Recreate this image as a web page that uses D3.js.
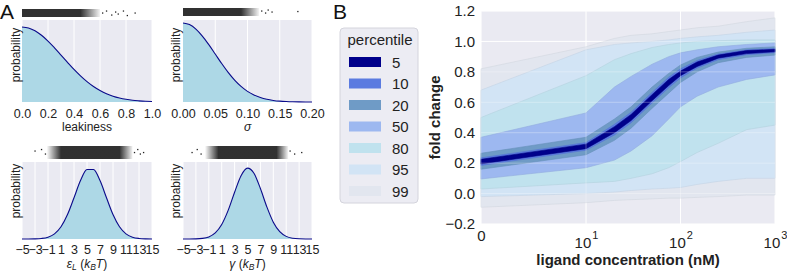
<!DOCTYPE html>
<html><head><meta charset="utf-8">
<script src="https://cdn.jsdelivr.net/npm/d3@7"></script>
<style>
body{margin:0;background:#fff;}
svg{display:block;font-family:"Liberation Sans", Arial, sans-serif;}
</style></head><body>
<svg id="c" width="787" height="272"></svg>
<script>
// ---------- Panel A data ----------
const leakX = [0,0.05,0.1,0.15,0.2,0.25,0.3,0.35,0.4,0.45,0.5,0.55,0.6,0.65,0.7,0.75,0.8,0.85,0.9,0.95,1.0];
const leakP = [1.0,0.987,0.949,0.889,0.812,0.722,0.626,0.529,0.435,0.349,0.272,0.207,0.154,0.111,0.078,0.054,0.036,0.023,0.015,0.009,0.006];
const sigmaX = [0,0.01,0.02,0.03,0.04,0.05,0.06,0.07,0.08,0.09,0.10,0.11,0.12,0.13,0.14,0.15,0.16,0.17,0.18,0.19,0.20];
const sigmaP = [1.0,0.98,0.923,0.835,0.726,0.607,0.487,0.375,0.278,0.198,0.135,0.089,0.056,0.034,0.020,0.011,0.006,0.003,0.0015,0.0007,0.0003];
const energyX = [-5,-4,-3,-2,-1,0,1,2,3,4,5,6,7,8,9,10,11,12,13,14,15];
const epsP = [0.0001,0.0004,0.0019,0.0076,0.0255,0.0724,0.172,0.345,0.581,0.823,0.979,0.979,0.823,0.581,0.345,0.172,0.0724,0.0255,0.0076,0.0019,0.0004];
const gammaP = [0.0001,0.0004,0.002,0.0085,0.0297,0.0856,0.204,0.403,0.659,0.892,0.999,0.926,0.711,0.452,0.237,0.103,0.037,0.011,0.0027,0.0006,0.0001];
const leakTicks = [0,0.2,0.4,0.6,0.8,1.0];
const sigmaTicks = [0,0.05,0.10,0.15,0.20];
const energyTicks = [-5,-3,-1,1,3,5,7,9,11,13,15];
// rug (sample strips): dense core range, fringe range, isolated samples (value, relative jitter)
const rugLeakCore = [0,0.45], rugLeakFringe = [0,0.6];
const rugLeakOut = [0.62,0.65,0.69,0.72,0.74,0.78,0.81,0.87];
const rugLeakJit = [0.5,0.3,0.7,0.4,0.6,0.3,0.75,0.5];
const rugSigmaCore = [0,0.09], rugSigmaFringe = [0,0.118];
const rugSigmaOut = [0.122,0.128,0.132,0.138,0.178];
const rugSigmaJit = [0.4,0.6,0.3,0.5,0.45];
const rugEpsCore = [1.0,10.0], rugEpsFringe = [-1.2,12.0];
const rugEpsOut = [-3.0,-2.0,-1.4,12.3,12.8,13.2,13.7];
const rugEpsJit = [0.4,0.3,0.6,0.5,0.3,0.6,0.5];
const rugGamCore = [0.5,9.5], rugGamFringe = [-1.6,11.3];
const rugGamOut = [-3.6,-2.8,-2.2,11.6,12.3,13.4];
const rugGamJit = [0.5,0.3,0.6,0.4,0.6,0.5];

// ---------- Panel B data ----------
const conc = [0,10,20,30,50,75,100,150,250,500,1000];
const p5lo  = [0.195,0.295,0.40,0.48,0.61,0.71,0.775,0.835,0.89,0.92,0.932];
const p5hi  = [0.225,0.325,0.44,0.52,0.65,0.75,0.805,0.865,0.91,0.94,0.948];
const p10lo = [0.185,0.285,0.385,0.465,0.595,0.695,0.76,0.825,0.88,0.913,0.926];
const p10hi = [0.235,0.335,0.455,0.535,0.665,0.765,0.82,0.875,0.918,0.945,0.954];
const p20lo = [0.16,0.255,0.35,0.43,0.56,0.66,0.73,0.80,0.86,0.895,0.91];
const p20hi = [0.265,0.37,0.49,0.57,0.70,0.79,0.845,0.895,0.93,0.955,0.965];
const p50lo = [0.096,0.17,0.22,0.28,0.38,0.49,0.57,0.64,0.70,0.75,0.78];
const p50hi = [0.37,0.53,0.70,0.77,0.85,0.90,0.925,0.945,0.965,0.98,0.99];
const p80lo = [0.03,0.07,0.08,0.10,0.13,0.17,0.21,0.27,0.33,0.42,0.45];
const p80hi = [0.50,0.775,0.88,0.92,0.96,0.98,0.99,1.0,1.005,1.01,1.01];
const p95lo = [-0.02,0.0,0.01,0.02,0.03,0.035,0.04,0.06,0.08,0.10,0.10];
const p95hi = [0.68,0.945,0.98,0.99,1.0,1.01,1.02,1.03,1.04,1.06,1.075];
const p99lo = [-0.09,-0.06,-0.045,-0.04,-0.035,-0.03,-0.03,-0.025,-0.02,-0.01,-0.01];
const p99hi = [0.82,0.965,1.02,1.04,1.05,1.065,1.075,1.09,1.10,1.13,1.155];
const percentiles = ["5","10","20","50","80","95","99"];
const bandColors = ["#00008b","#5b7be0","#6f9bc6","#9db8f0","#c0e2ee","#d2e4f5","#e2e6ef"];
const yTicksB = [-0.2,0,0.2,0.4,0.6,0.8,1.0,1.2];
const xTicksB = [0,10,100,1000];

// ---------- drawing ----------
const svg = d3.select("#c");
const BG = "#eaeaf2", TXT = "#222";
const defs = svg.append("defs");
let gradN = 0;

function densityPanel(o){
  const x = d3.scaleLinear().domain(o.domain).range([o.left,o.right]);
  const y = d3.scaleLinear().domain([0,o.ymax]).range([o.bottom,o.top]);
  const g = svg.append("g");
  g.append("rect").attr("x",o.left).attr("y",o.top).attr("width",o.right-o.left).attr("height",o.bottom-o.top).attr("fill",BG);
  g.selectAll("line.vg").data(o.ticks).join("line").attr("class","vg")
    .attr("x1",d=>x(d)).attr("x2",d=>x(d)).attr("y1",o.top).attr("y2",o.bottom)
    .attr("stroke","#fff").attr("stroke-width",1);
  const pts = o.xs.map((v,i)=>[v,o.ps[i]]);
  g.append("path").datum(pts)
    .attr("d", d3.area().x(d=>x(d[0])).y0(y(0)).y1(d=>y(d[1])).curve(d3.curveMonotoneX))
    .attr("fill","#add8e6");
  g.append("path").datum(pts)
    .attr("d", d3.line().x(d=>x(d[0])).y(d=>y(d[1])).curve(d3.curveMonotoneX))
    .attr("fill","none").attr("stroke","#0a0a8a").attr("stroke-width",1.1);
  // axis
  const ax = g.append("g").attr("transform",`translate(0,${o.bottom})`)
    .call(d3.axisBottom(x).tickValues(o.ticks).tickFormat(o.fmt).tickSize(0).tickPadding(o.pad));
  ax.select(".domain").remove();
  ax.selectAll("text").attr("font-size",12.5).attr("fill",TXT).attr("font-family","Liberation Sans, Arial, sans-serif");
  // y label
  g.append("text").attr("transform",`translate(${o.ylabX},${o.ylabY}) rotate(-90)`)
    .attr("text-anchor","middle").attr("font-size",12).attr("fill",TXT).text("probability");
  // x label
  o.xlabel(g.append("text").attr("x",(o.left+o.right)/2).attr("y",o.xlabY)
    .attr("text-anchor","middle").attr("font-size",12).attr("fill",TXT));
  // rug
  const r = o.rug;
  const f0 = x(r.fringe[0]), f1 = x(r.fringe[1]), w = f1 - f0;
  const id = "rg" + (gradN++);
  const gr = defs.append("linearGradient").attr("id",id).attr("gradientUnits","userSpaceOnUse")
    .attr("x1",f0).attr("x2",f1).attr("y1",0).attr("y2",0);
  const startOp = r.fringe[0] === r.core[0] ? 0.9 : 0;
  [[0,startOp],[(x(r.core[0])-f0)/w,0.9],[(x(r.core[1])-f0)/w,0.9],[1,0.05]].forEach(s=>
    gr.append("stop").attr("offset",s[0]).attr("stop-color","#1a1a1a").attr("stop-opacity",s[1]));
  g.append("rect").attr("x",f0).attr("y",r.top+1).attr("width",w)
    .attr("height",r.bottom-r.top-2).attr("fill",`url(#${id})`);
  g.selectAll("rect.out").data(r.out).join("rect").attr("class","out")
    .attr("x",d=>x(d)-0.6).attr("y",(d,i)=>r.top + r.jit[i]*(r.bottom-r.top)-0.6)
    .attr("width",1.3).attr("height",1.3).attr("fill","#222");
}
const f1 = d3.format(".1f"), f2 = d3.format(".2f");
const fE = d => d<0 ? "\u2212"+Math.abs(d) : String(d);
function energyLabel(sym){
  return t => {
    t.append("tspan").attr("font-style","italic").text(sym);
    if(sym==="\u03b5") t.append("tspan").attr("font-style","italic").attr("font-size",8.5).attr("dy",2.5).text("L");
    t.append("tspan").attr("dy", sym==="\u03b5" ? -2.5 : 0).text(" (");
    t.append("tspan").attr("font-style","italic").text("k");
    t.append("tspan").attr("font-style","italic").attr("font-size",8.5).attr("dy",2.5).text("B");
    t.append("tspan").attr("font-style","italic").attr("dy",-2.5).text("T");
    t.append("tspan").text(")");
  };
}
densityPanel({domain:[0,1],left:22,right:152,top:20,bottom:102,ymax:1.093,xs:leakX,ps:leakP,ticks:leakTicks,fmt:f1,pad:7,
  ylabX:19.5,ylabY:55,xlabY:131,xlabel:t=>t.text("leakiness"),
  rug:{top:8,bottom:18,core:rugLeakCore,fringe:rugLeakFringe,out:rugLeakOut,jit:rugLeakJit}});
densityPanel({domain:[0,0.2],left:183,right:312,top:20,bottom:102,ymax:1.038,xs:sigmaX,ps:sigmaP,ticks:sigmaTicks,fmt:f2,pad:7,
  ylabX:179.5,ylabY:55,xlabY:131,xlabel:t=>t.attr("font-style","italic").text("\u03c3"),
  rug:{top:7,bottom:17,core:rugSigmaCore,fringe:rugSigmaFringe,out:rugSigmaOut,jit:rugSigmaJit}});
densityPanel({domain:[-5,15],left:22,right:152,top:162,bottom:239,ymax:1.085,xs:energyX,ps:epsP,ticks:energyTicks,fmt:fE,pad:6.5,
  ylabX:19.5,ylabY:191,xlabY:267.5,xlabel:energyLabel("\u03b5"),
  rug:{top:145,bottom:160,core:rugEpsCore,fringe:rugEpsFringe,out:rugEpsOut,jit:rugEpsJit}});
densityPanel({domain:[-5,15],left:183,right:312,top:162,bottom:239,ymax:1.085,xs:energyX,ps:gammaP,ticks:energyTicks,fmt:fE,pad:6.5,
  ylabX:179.5,ylabY:191,xlabY:267.5,xlabel:energyLabel("\u03b3"),
  rug:{top:145,bottom:160,core:rugGamCore,fringe:rugGamFringe,out:rugGamOut,jit:rugGamJit}});

svg.append("text").attr("x",0).attr("y",19).attr("font-size",21).attr("fill","#111").text("A");
svg.append("text").attr("x",333).attr("y",19).attr("font-size",21).attr("fill","#111").text("B");

// ---------- Panel B ----------
const symT = v => v <= 10 ? (v/10)/(1-1/10) : 1/(1-1/10) + Math.log10(v/10);
const L = 481, R = 775, T = 11, B = 224;
const xB = d3.scaleLinear().domain([symT(0), symT(1000)]).range([L,R]);
const yB = d3.scaleLinear().domain([-0.2,1.2]).range([B,T]);
const gB = svg.append("g");
gB.append("rect").attr("x",L).attr("y",T).attr("width",R-L).attr("height",B-T).attr("fill",BG);
function grid(op){
  gB.append("g").selectAll("line").data(yTicksB).join("line")
    .attr("x1",L).attr("x2",R).attr("y1",d=>yB(d)).attr("y2",d=>yB(d)).attr("stroke","#fff").attr("stroke-width",1).attr("opacity",op);
  gB.append("g").selectAll("line").data(xTicksB).join("line")
    .attr("x1",d=>xB(symT(d))).attr("x2",d=>xB(symT(d))).attr("y1",T).attr("y2",B).attr("stroke","#fff").attr("stroke-width",1).attr("opacity",op);
}
grid(1);
const bands = [[p99lo,p99hi],[p95lo,p95hi],[p80lo,p80hi],[p50lo,p50hi],[p20lo,p20hi],[p10lo,p10hi],[p5lo,p5hi]];
const bandCols = bandColors.slice().reverse();
bands.forEach((b,k)=>{
  const pts = conc.map((c,i)=>({c, lo:b[0][i], hi:b[1][i]}));
  gB.append("path").datum(pts)
    .attr("d", d3.area().x(d=>xB(symT(d.c))).y0(d=>yB(d.lo)).y1(d=>yB(d.hi)))
    .attr("fill", bandCols[k])
    .attr("stroke", d3.color(bandCols[k]).darker(0.2)).attr("stroke-width",0.6);
});
grid(0.3);
const axY = gB.append("g").attr("transform",`translate(${L},0)`)
  .call(d3.axisLeft(yB).tickValues(yTicksB).tickFormat(d3.format(".1f")).tickSize(0).tickPadding(6));
axY.select(".domain").remove();
axY.selectAll("text").attr("font-size",15).attr("fill",TXT).attr("font-family","Liberation Sans, Arial, sans-serif");
const axX = gB.append("g").attr("transform",`translate(0,${B})`)
  .call(d3.axisBottom(d3.scaleLinear().domain(xB.domain()).range(xB.range())).tickValues(xTicksB.map(symT)).tickFormat("").tickSize(0));
axX.select(".domain").remove();
axX.selectAll(".tick text").each(function(d,i){
  const t = d3.select(this).attr("dy",null).attr("font-size",15).attr("fill",TXT).attr("font-family","Liberation Sans, Arial, sans-serif");
  const v = xTicksB[i];
  if(v===0){ t.attr("y",17).text("0"); }
  else {
    t.attr("y",24);
    t.append("tspan").text("10");
    t.append("tspan").attr("font-size",11).attr("dx",1).attr("dy",-9).text(String(Math.round(Math.log10(v))));
  }
});
gB.append("text").attr("x",(L+R)/2).attr("y",265).attr("text-anchor","middle").attr("font-size",15)
  .attr("font-weight","bold").attr("fill",TXT).text("ligand concentration (nM)");
gB.append("text").attr("transform",`translate(440,${(T+B)/2}) rotate(-90)`).attr("text-anchor","middle")
  .attr("font-size",15).attr("font-weight","bold").attr("fill",TXT).text("fold change");

// legend
const lg = svg.append("g");
lg.append("rect").attr("x",340).attr("y",28).attr("width",78).attr("height",175).attr("rx",4)
  .attr("fill","#ececf3").attr("stroke","#d4d4dc").attr("stroke-width",1);
lg.append("text").attr("x",380).attr("y",45).attr("text-anchor","middle").attr("font-size",15).attr("fill",TXT).text("percentile");
const rowY = d3.scaleLinear().domain([0,6]).range([62,191]);
lg.selectAll("rect.sw").data(percentiles).join("rect").attr("class","sw")
  .attr("x",349).attr("y",(d,i)=>rowY(i)-5).attr("width",32).attr("height",10).attr("fill",(d,i)=>bandColors[i]);
lg.selectAll("text.lb").data(percentiles).join("text").attr("class","lb")
  .attr("x",392).attr("y",(d,i)=>rowY(i)+5.5).attr("font-size",15).attr("fill",TXT).text(d=>d);
</script>
</body></html>
